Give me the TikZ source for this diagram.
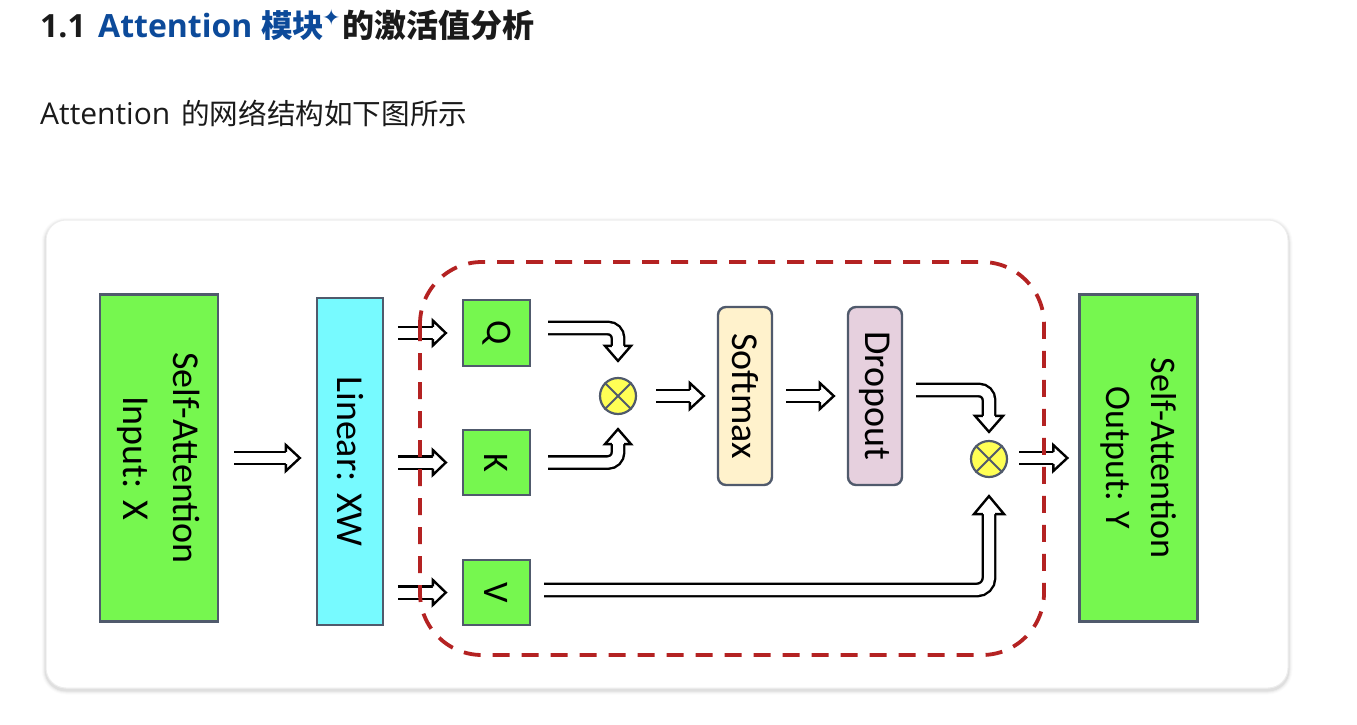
\documentclass[tikz,border=0pt]{standalone}
\usepackage{fontspec}
\setmainfont{Carlito}
\newfontfamily\cjk{Noto Sans CJK SC}
\newfontfamily\osans{Open Sans}
\newfontfamily\symf{DejaVu Sans}
\usetikzlibrary{calc}

\definecolor{grn}{RGB}{118,247,79}
\definecolor{cyn}{RGB}{119,250,255}
\definecolor{smx}{RGB}{255,242,204}
\definecolor{drp}{RGB}{230,208,222}
\definecolor{multy}{RGB}{255,255,85}
\definecolor{bordc}{RGB}{80,90,108}
\definecolor{dashred}{RGB}{180,34,34}
\definecolor{headblue}{RGB}{12,74,154}
\definecolor{ink}{RGB}{26,26,26}

% hollow block-arrow head: tip at #1, pointing at angle #2, length #3, half width #4
\newcommand{\ahead}[4]{%
  \begin{scope}[shift={#1}, rotate=#2]
    \fill[white] (0,0) -- (-#3,#4) -- (-#3,-#4) -- cycle;
    \draw[arrline] (-#3,6.2) -- (-#3,#4) -- (0,0) -- (-#3,-#4) -- (-#3,-6.2);
  \end{scope}}

\begin{document}
\begin{tikzpicture}[x=1pt, y=-1pt,
  box/.style={draw=bordc, line width=2.4, inner sep=0},
  lbl/.style={rotate=-90, align=center, font=\fontsize{38}{50}\selectfont, inner sep=0, text=black},
  arrline/.style={line width=2.4, line join=miter, draw=black},
  shaft/.style={line width=2.4, double=white, double distance=10, draw=black},
  mult/.style={circle, draw=bordc, line width=2.2, fill=multy, minimum size=36, inner sep=0},
]
\useasboundingbox (0,0) rectangle (1357,725);
\fill[white] (0,0) rectangle (1357,725);

% ---- heading and intro line ----
\node[anchor=base west, inner sep=0, text=ink, font=\osans\bfseries\fontsize{32}{36}\selectfont] (h1) at (40,38) {1.1};
\node[anchor=base west, inner sep=0, text=headblue, font=\osans\bfseries\fontsize{32}{36}\selectfont] (h2) at (98,38) {Attention};
\node[anchor=base west, inner sep=0, text=headblue, font=\cjk\bfseries\fontsize{31.5}{36}\selectfont] (h3) at (261,38) {模块};
\node[anchor=base west, inner sep=0, text=headblue, font=\symf\fontsize{22}{24}\selectfont] (h4) at (322,26) {✦};
\node[anchor=base west, inner sep=0, text=ink, font=\cjk\bfseries\fontsize{32}{36}\selectfont] (h5) at (342,38) {的激活值分析};
\node[anchor=base west, inner sep=0, text=ink, font=\osans\fontsize{30}{34}\selectfont] (t1) at (40,124) {Attention};
\node[anchor=base west, inner sep=0, text=ink, font=\cjk\fontsize{28.6}{34}\selectfont] (t2) at (181,124) {的网络结构如下图所示};

% ---- card with soft shadow ----
\foreach \w/\o in {9/0.015, 7/0.025, 5/0.035, 3/0.05}
  \draw[line width=\w, draw opacity=\o, rounded corners=20] (46,222) rectangle (1288,690);
\draw[fill=white, draw=black!7, line width=1, rounded corners=20] (46,220) rectangle (1288,688);

% ---- blocks ----
\node[box, fill=grn, minimum width=118, minimum height=327] (in) at (159,458) {};
\node[lbl] (intxt) at (in.center) {Self-Attention\\Input: X};
\node[box, fill=cyn, minimum width=66, minimum height=327] (lin) at (350,461.5) {};
\node[lbl] (lintxt) at (lin.center) {Linear: XW};

\node[box, fill=grn, minimum width=67, minimum height=66] (q) at (496.5,333) {};
\node[lbl, font=\fontsize{36}{40}\selectfont] (qtxt) at (q.center) {Q};
\node[box, fill=grn, minimum width=67, minimum height=65] (k) at (496.5,462.5) {};
\node[lbl, font=\fontsize{36}{40}\selectfont] (ktxt) at (k.center) {K};
\node[box, fill=grn, minimum width=67, minimum height=65] (v) at (496.5,592.5) {};
\node[lbl, font=\fontsize{36}{40}\selectfont] (vtxt) at (v.center) {V};

\node[mult] (m1) at (618,396) {};
\draw[bordc, line width=2] (m1.north east) -- (m1.south west) (m1.north west) -- (m1.south east);

\node[box, fill=smx, rounded corners=8, minimum width=54, minimum height=178] (sm) at (745,396) {};
\node[lbl] (smtxt) at (sm.center) {Softmax};
\node[box, fill=drp, rounded corners=8, minimum width=54, minimum height=178] (dp) at (875,396) {};
\node[lbl] (dptxt) at (dp.center) {Dropout};

\node[mult] (m2) at (989,459) {};
\draw[bordc, line width=2] (m2.north east) -- (m2.south west) (m2.north west) -- (m2.south east);

\node[box, fill=grn, minimum width=118, minimum height=327] (out) at (1138.5,458) {};
\node[lbl, font=\fontsize{36}{45}\selectfont] (outtxt) at (out.center) {Self-Attention\\Output: Y};

% ---- straight block arrows ----
\coordinate (a1s) at ($(in.east)+(15,0)$);
\coordinate (a1t) at ($(lin.west |- in.east)+(-16,0)$);
\draw[shaft] (a1s) -- ($(a1t)+(-13,0)$);
\ahead{(a1t)}{0}{14}{13}

\foreach \b in {q,k,v}{
  \coordinate (\b s) at ($(\b.west)+(-64,0)$);
  \coordinate (\b t) at ($(\b.west)+(-16,0)$);
  \draw[shaft] (\b s) -- ($(\b t)+(-12,0)$);
  \ahead{(\b t)}{0}{13}{12.5}
}

\coordinate (b1s) at ($(m1.east)+(19,0)$);
\coordinate (b1t) at ($(sm.west)+(-13,0)$);
\draw[shaft] (b1s) -- ($(b1t)+(-13,0)$);
\ahead{(b1t)}{0}{14}{13}

\coordinate (b2s) at ($(sm.east)+(13,0)$);
\coordinate (b2t) at ($(dp.west)+(-13,0)$);
\draw[shaft] (b2s) -- ($(b2t)+(-13,0)$);
\ahead{(b2t)}{0}{14}{13}

\coordinate (b3s) at ($(m2.east)+(11,-1)$);
\coordinate (b3t) at ($(out.west |- b3s)+(-11,0)$);
\draw[shaft] (b3s) -- ($(b3t)+(-13,0)$);
\ahead{(b3t)}{0}{14}{13}

% ---- elbow block arrows ----
\coordinate (qes) at ($(q.east)+(17,-5)$);
\coordinate (qet) at ($(m1.north)+(0,-16)$);
\draw[shaft, rounded corners=10] (qes) -| ($(qet)+(0,-14)$);
\ahead{(qet)}{-90}{15}{13}

\coordinate (kes) at ($(k.east)+(17,0)$);
\coordinate (ket) at ($(m1.south)+(0,14)$);
\draw[shaft, rounded corners=10] (kes) -| ($(ket)+(0,14)$);
\ahead{(ket)}{90}{15}{13}

\coordinate (des) at ($(dp.east)+(13,-6)$);
\coordinate (det) at ($(m2.north)+(0,-8)$);
\draw[shaft, rounded corners=10] (des) -| ($(det)+(0,-15)$);
\ahead{(det)}{-90}{16}{14}

\coordinate (ves) at ($(v.east)+(13,-2.5)$);
\coordinate (vet) at ($(m2.south)+(0,18)$);
\draw[shaft, rounded corners=12] (ves) -| ($(vet)+(0,17)$);
\ahead{(vet)}{90}{18}{15}

% ---- attention core boundary ----
\draw[dashred, line width=3.8, dash pattern=on 17 off 12, rounded corners=62] (420,262) rectangle (1044,655);
\end{tikzpicture}
\end{document}
